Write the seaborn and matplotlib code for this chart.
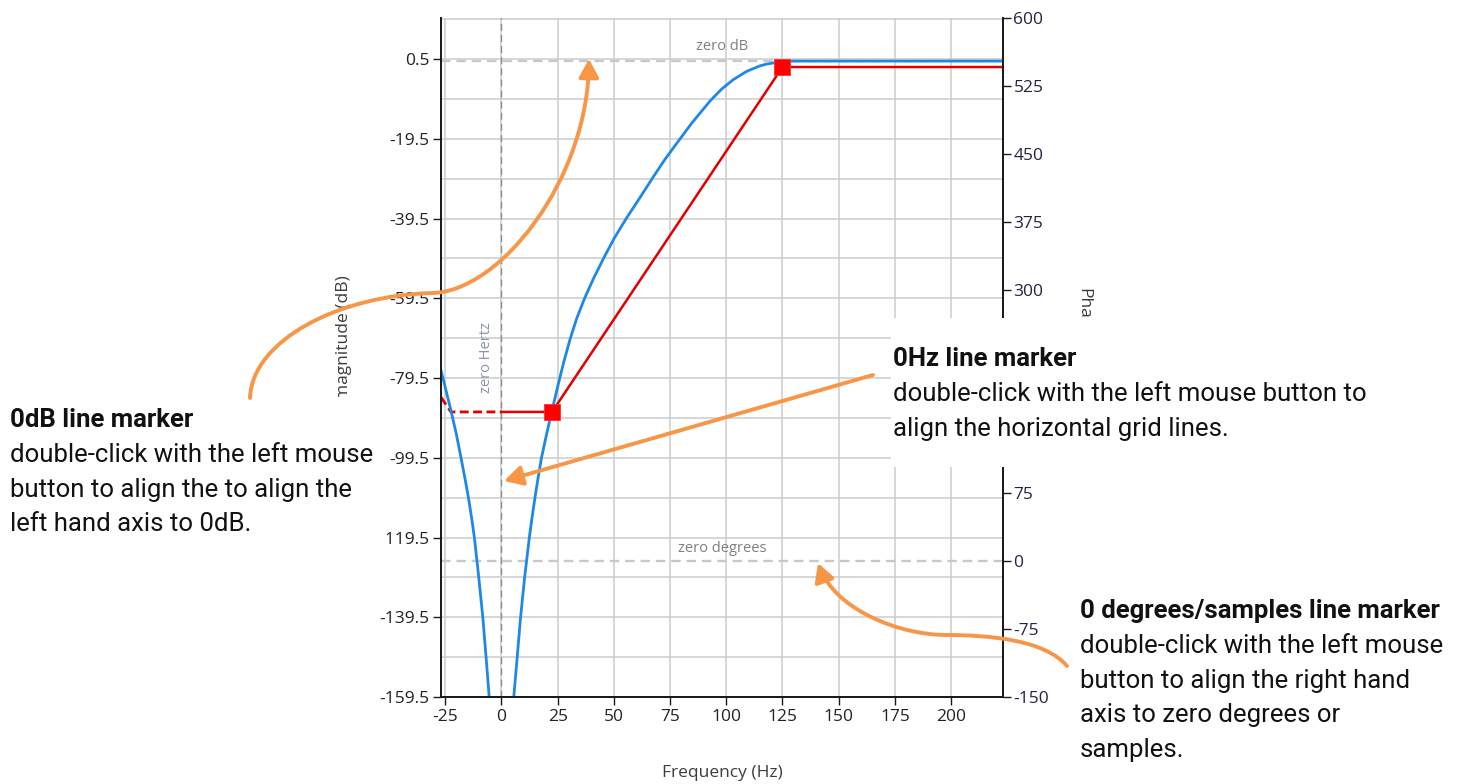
import matplotlib
matplotlib.use("Agg")
import matplotlib.pyplot as plt
import matplotlib.transforms as mtransforms
from matplotlib.patches import Rectangle, FancyArrowPatch
from matplotlib.path import Path
from matplotlib.ticker import FixedLocator
import pandas as pd
import seaborn as sns

# Filter magnitude (blue), one branch each side of the 0 Hz null
neg_freq = [-26.9, -25.8, -22.5, -20.1, -18.0, -16.3, -14.7, -13.3, -12.05, -10.1, -8.3,
            -6.85, -5.4]
neg_mag = [-77.6, -80.0, -87.6, -93.5, -99.5, -104.5, -109.5, -114.5, -119.5, -129.5,
           -139.5, -149.5, -160.0]

pos_freq = [5.4, 7.0, 8.5, 10.3, 12.4, 13.6, 14.9, 16.3, 17.8, 20.1, 22.5, 25.8, 27.8, 30.5,
            33.5, 37.2, 40.9, 45.3, 50.2, 55.7, 61.2, 66.9, 72.3, 78.0, 84.6, 92.8, 98.0,
            103.0, 109.0, 115.0, 118.0, 124.0, 130.0, 223.1]
pos_mag = [-160.0, -149.5, -139.5, -129.5, -119.5, -114.5, -109.5, -104.5, -99.5, -93.5,
           -87.6, -79.8, -75.3, -69.8, -64.5, -59.2, -54.6, -49.6, -44.4, -39.3, -34.6,
           -29.6, -25.0, -20.6, -15.6, -10.0, -7.0, -4.7, -2.6, -1.2, -0.75, -0.2, 0.0, 0.0]

# Specification template (red) and its mirror in negative frequencies (dashed)
spec_freq = [0, 22.5, 125, 223.1]
spec_mag = [-88, -88, -1.5, -1.5]
mirror_freq = [-26.9, -22.5, 0]
mirror_mag = [-84.3, -88, -88]
marker_freq = [22.5, 125]
marker_mag = [-88, -1.5]

xticks = [-25, 0, 25, 50, 75, 100, 125, 150, 175, 200]
mag_ticks = [0.5, -19.5, -39.5, -59.5, -79.5, -99.5, -119.5, -139.5, -159.5]
mag_grid = [10.5, 0.5, -9.5, -19.5, -29.5, -39.5, -49.5, -59.5, -69.5, -79.5, -89.5,
            -99.5, -109.5, -119.5, -129.5, -139.5, -149.5, -159.5]
phase_ticks = [-150, -75, 0, 75, 150, 225, 300, 375, 450, 525, 600]
phase_hidden = [150, 225]  # covered by the 0Hz callout in the screenshot

BLUE = "#1e88e5"
RED = "#e00000"
ORANGE = "#f79646"
W, H = 1464, 784


def fx(px):
    return px / W


def fy(py):
    return 1 - py / H


sns.set_theme(style="white")
plt.rcParams["font.family"] = ["Open Sans", "DejaVu Sans"]
plt.rcParams["axes.unicode_minus"] = False

fig = plt.figure(figsize=(W / 100, H / 100), dpi=100)
ax = fig.add_axes([fx(441), fy(697), fx(1003) - fx(441), fy(18) - fy(697)])
ax2 = ax.twinx()

blue_df = pd.DataFrame({
    "freq": neg_freq + pos_freq,
    "mag": neg_mag + pos_mag,
    "branch": ["neg"] * len(neg_freq) + ["pos"] * len(pos_freq),
})
sns.lineplot(data=blue_df, x="freq", y="mag", units="branch", estimator=None,
             color=BLUE, lw=2, ax=ax, zorder=4)
sns.lineplot(x=mirror_freq, y=mirror_mag, color=RED, lw=2, ax=ax, zorder=3,
             linestyle=(0, (3.2, 1.6)), sort=False)
sns.lineplot(x=spec_freq, y=spec_mag, color=RED, lw=1.8, ax=ax, zorder=3, sort=False)
sns.scatterplot(x=marker_freq, y=marker_mag, color="#ff0000", marker="s", s=125,
                edgecolor="#ff3030", linewidth=0.6, ax=ax, zorder=5)

ax.set_xlim(-26.9, 223.1)
ax.set_ylim(-159.5, 10.8)
ax2.set_ylim(-150, 600)
ax.set_xticks(xticks)
ax.set_xticklabels([f"{v:g}" for v in xticks])
ax.set_yticks(mag_ticks)
ax.set_yticklabels([f"{v:g}" for v in mag_ticks])
ax.yaxis.set_minor_locator(FixedLocator(mag_grid))
ax2.set_yticks(phase_ticks)
ax2.set_yticklabels(["" if v in phase_hidden else f"{v:g}" for v in phase_ticks])

ax.grid(True, axis="x", which="major", color="#cccccc", lw=1.1)
ax.grid(True, axis="y", which="both", color="#cccccc", lw=1.1)
ax.set_axisbelow(True)

# zero markers
ax.axvline(0, color="#8c8c8c", lw=1.0, ls=(0, (5, 3)), zorder=2)
ax.axhline(0, color="#c8c8c8", lw=1.7, ls=(0, (4, 2.5)), zorder=2)
deg_tr = mtransforms.blended_transform_factory(ax.transAxes, ax2.transData)
ax.plot([0, 1], [0, 0], transform=deg_tr, color="#c8c8c8", lw=1.7, ls=(0, (4, 2.5)), zorder=2)

mag_tr = mtransforms.blended_transform_factory(ax.transAxes, ax.transData)
ax.annotate("zero dB", xy=(0.5, 0), xycoords=mag_tr, xytext=(0, 8), textcoords="offset points",
            ha="center", va="baseline", fontsize=10.5, color="#7f7f7f")
ax.annotate("zero degrees", xy=(0.5, 0), xycoords=deg_tr, xytext=(0, 6.7),
            textcoords="offset points", ha="center", va="baseline", fontsize=10.5, color="#7f7f7f")
hz_tr = mtransforms.blended_transform_factory(ax.transData, ax.transAxes)
ax.annotate("zero Hertz", xy=(0, 0.5), xycoords=hz_tr, xytext=(-10.5, 0),
            textcoords="offset points", ha="center", va="center", rotation=90,
            fontsize=10.5, color="#8a94a6")

for a in (ax, ax2):
    a.spines["top"].set_visible(False)
    for s in ("left", "right", "bottom"):
        a.spines[s].set_color("#1a1a1a")
        a.spines[s].set_linewidth(1.3)
ax.tick_params(axis="both", which="major", direction="out", length=5.5, width=1,
               color="#1a1a1a", labelsize=12.5, labelcolor="#222222", pad=3,
               left=True, bottom=True)
ax.tick_params(axis="y", which="minor", length=0)
ax2.tick_params(axis="y", direction="out", length=6, width=1, color="#1a1a1a",
                labelsize=12.5, labelcolor="#222244", pad=1.5, right=True)

ax.set_xlabel("Frequency (Hz)", fontsize=12.5, color="#3c3c3c")
ax.xaxis.set_label_coords(0.5, -0.112)
ax.xaxis.label.set_va("center")
ax.set_ylabel("magnitude (dB)", fontsize=12.5, color="#3c3c3c")
ax.yaxis.set_label_coords(-0.1726, 0.529)
ax.yaxis.label.set_va("center")
# the rest of the phase label is hidden behind the 0Hz callout in the screenshot
ax2.set_ylabel("Pha", fontsize=12.5, color="#3c3c3c", rotation=270)
ax2.yaxis.set_label_coords(1.142, 0.579)
ax2.yaxis.label.set_va("center")

# white callout boxes that sit over the chart
for (x0, y0, x1, y1) in [(0, 397, 387, 548), (891, 318, 1400, 467)]:
    fig.add_artist(Rectangle((fx(x0), fy(y1)), fx(x1) - fx(x0), fy(y0) - fy(y1),
                             transform=fig.transFigure, facecolor="white",
                             edgecolor="none", zorder=5))

callouts = [
    (10, 427, "0dB line marker", ["double-click with the left mouse",
                                  "button to align the to align the",
                                  "left hand axis to 0dB."]),
    (893, 366, "0Hz line marker", ["double-click with the left mouse button to",
                                   "align the horizontal grid lines."]),
    (1080, 618, "0 degrees/samples line marker", ["double-click with the left mouse",
                                                  "button to align the right hand",
                                                  "axis to zero degrees or",
                                                  "samples."]),
]
step = 34.8
for x0, y0, title, lines in callouts:
    fig.text(fx(x0), fy(y0), title, family="Roboto", weight="bold", fontsize=18.5,
             color="#111111", va="baseline", ha="left", zorder=6)
    for i, line in enumerate(lines):
        fig.text(fx(x0), fy(y0 + step * (i + 1)), line, family="Roboto", fontsize=18.5,
                 color="#111111", va="baseline", ha="left", zorder=6)

# orange pointer arrows
C = Path.CURVE4
arrows = [
    ([(250, 398), (252, 340), (340, 295), (433, 293), (500, 291), (588, 180), (589, 59)],
     [Path.MOVETO, C, C, C, C, C, C]),
    ([(873, 375), (504, 481)], [Path.MOVETO, Path.LINETO]),
    ([(1067, 666), (1045, 640), (990, 635), (946, 635), (900, 635), (835, 610), (818, 563)],
     [Path.MOVETO, C, C, C, C, C, C]),
]
for verts, codes in arrows:
    p = Path([(fx(x), fy(y)) for x, y in verts], codes)
    fig.add_artist(FancyArrowPatch(path=p, transform=fig.transFigure,
                                   arrowstyle="-|>,head_length=0.55,head_width=0.3",
                                   mutation_scale=20, color=ORANGE, lw=2.8, zorder=8))

fig.savefig("out.png", dpi=100)
